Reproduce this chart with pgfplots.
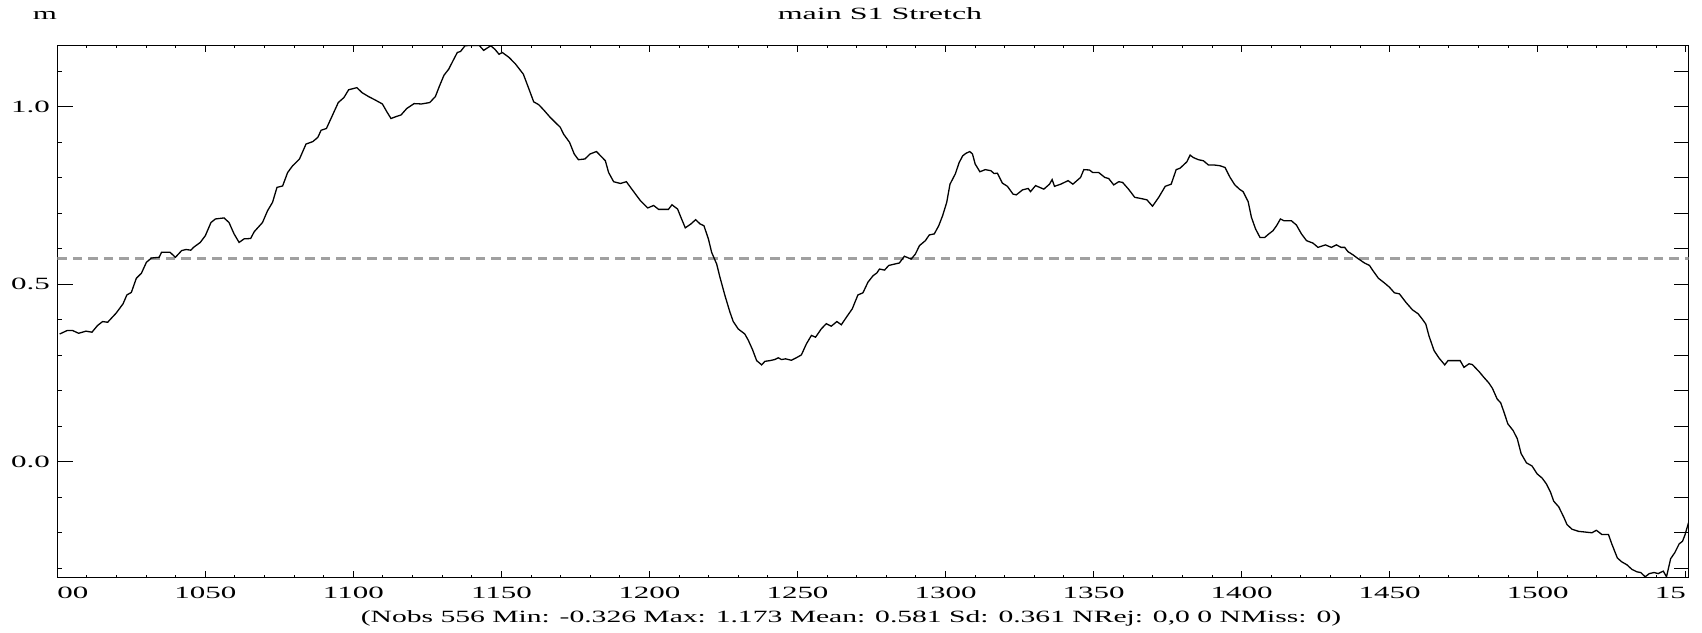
\documentclass[border=0pt]{standalone}
\usepackage{fontspec}
\setmainfont{Liberation Serif}[FakeStretch=1.8]
\newfontfamily\capfont{Liberation Serif}[FakeStretch=1.72]
\newfontfamily\titfont{Liberation Serif}[FakeStretch=1.86]
\usepackage{pgfplots}
\pgfplotsset{compat=1.18}
\begin{document}
\fontsize{8.6}{10}\selectfont
\begin{tikzpicture}
\begin{axis}[name=main,
  scale only axis, width=815.7pt, height=266.05pt,
  xmin=1000, xmax=1551, ymin=-0.326, ymax=1.173,
  axis line style={line width=0.6pt},
  tick align=inside,
  every tick/.style={black, line width=0.5pt},
  major tick length=3.5pt, minor tick length=1.25pt,
  xtick={1000,1050,...,1550},
  xticklabels={\makebox[0pt][l]{00},1050,1100,1150,1200,1250,1300,1350,1400,1450,1500,\makebox[0pt][r]{15}},
  minor x tick num=4,
  xtick pos=both,
  ytick={0,0.5,1}, yticklabels={0.0,0.5,1.0},
  ytick pos=left,
  xticklabel style={anchor=base, inner sep=0pt, yshift=-10.65pt, font=\fontsize{8.6}{10}\selectfont},
  yticklabel style={anchor=east, inner sep=0pt, xshift=-3.5pt, font=\fontsize{8.6}{10}\selectfont},
]
\addplot[draw={rgb,255:red,160;green,160;blue,160}, line width=1.15pt, dash pattern=on 4.75pt off 3pt] coordinates {(1000,0.573) (1551,0.573)};
\addplot[black, line width=0.65pt, mark=none] coordinates {
(1000.8,0.360) (1003.4,0.370) (1005.1,0.370) (1007.2,0.362) (1009.7,0.368) (1011.7,0.365) (1013.6,0.384) (1015.3,0.395) (1017.0,0.393) (1019.9,0.419) (1022.2,0.445) (1023.5,0.470) (1025.0,0.477) (1026.7,0.517) (1028.4,0.531) (1030.1,0.562) (1031.8,0.574) (1034.4,0.576) (1035.2,0.590) (1038.1,0.590) (1039.9,0.576) (1042.0,0.595) (1043.5,0.598) (1045.1,0.596) (1046.0,0.604) (1048.3,0.618) (1050.0,0.637) (1051.9,0.674) (1053.4,0.684) (1056.3,0.687) (1058.0,0.674) (1059.7,0.642) (1061.4,0.618) (1063.1,0.628) (1065.3,0.629) (1066.5,0.648) (1069.3,0.674) (1071.0,0.707) (1072.7,0.731) (1074.2,0.773) (1076.1,0.777) (1077.8,0.815) (1079.5,0.834) (1081.8,0.853) (1084.0,0.895) (1086.3,0.902) (1088.0,0.914) (1089.1,0.934) (1090.9,0.939) (1092.6,0.970)
(1094.9,1.012) (1096.8,1.026) (1098.4,1.048) (1101.2,1.054) (1102.9,1.040) (1105.1,1.029) (1107.4,1.019) (1109.8,1.008) (1111.3,0.986) (1112.7,0.967) (1114.6,0.973) (1116.1,0.977) (1118.0,0.995) (1120.5,1.009) (1123.0,1.008) (1125.8,1.012) (1127.7,1.029) (1129.1,1.059) (1130.6,1.089) (1132.2,1.106) (1133.6,1.129) (1135.1,1.153) (1136.2,1.156) (1137.7,1.172) (1139.7,1.173) (1142.5,1.173) (1144.0,1.159) (1146.4,1.172) (1147.8,1.162) (1149.2,1.148) (1150.3,1.153) (1152.6,1.139) (1154.8,1.120) (1157.4,1.092) (1159.3,1.050) (1160.9,1.014) (1162.6,1.006) (1164.3,0.991) (1166.5,0.970) (1168.2,0.956) (1169.9,0.942) (1171.0,0.923) (1173.0,0.900) (1174.6,0.867) (1176.0,0.851) (1178.2,0.853) (1179.9,0.867) (1182.1,0.874)
(1185.1,0.848) (1186.2,0.815) (1187.9,0.789) (1190.2,0.784) (1192.2,0.789) (1194.4,0.764) (1196.9,0.736) (1199.4,0.715) (1201.4,0.722) (1203.1,0.711) (1206.4,0.711) (1207.6,0.724) (1209.5,0.712) (1210.6,0.689) (1212.1,0.659) (1214.0,0.670) (1215.6,0.682) (1217.1,0.670) (1218.4,0.665) (1219.9,0.628) (1221.0,0.590) (1222.7,0.557) (1223.8,0.520) (1225.5,0.468) (1227.2,0.421) (1228.3,0.395) (1230.0,0.374) (1232.2,0.360) (1233.4,0.342) (1234.8,0.316) (1236.2,0.285) (1237.9,0.273) (1239.0,0.283) (1240.7,0.285) (1242.3,0.288) (1243.5,0.293) (1244.6,0.288) (1246.0,0.290) (1247.9,0.286) (1249.6,0.293) (1251.3,0.301) (1253.0,0.332) (1254.7,0.356) (1256.1,0.351) (1258.0,0.374) (1259.7,0.389) (1261.4,0.382) (1263.3,0.395) (1264.8,0.386) (1266.5,0.407) (1268.5,0.431) (1270.4,0.470)
(1272.1,0.476) (1273.8,0.506) (1275.5,0.524) (1276.8,0.532) (1277.7,0.543) (1279.4,0.540) (1280.8,0.553) (1282.8,0.557) (1284.4,0.560) (1286.1,0.579) (1288.4,0.571) (1289.8,0.585) (1291.2,0.609) (1293.2,0.623) (1294.5,0.639) (1296.2,0.642) (1297.7,0.665) (1299.0,0.693) (1300.4,0.731) (1301.5,0.782) (1303.3,0.811) (1304.6,0.843) (1305.8,0.862) (1306.9,0.869) (1308.2,0.874) (1309.1,0.867) (1310.0,0.839) (1311.6,0.817) (1313.4,0.823) (1315.3,0.820) (1316.4,0.812) (1317.5,0.813) (1319.2,0.785) (1320.9,0.776) (1322.8,0.754) (1323.9,0.752) (1326.0,0.766) (1327.9,0.770) (1328.7,0.761) (1330.4,0.778) (1333.2,0.768) (1335.1,0.782) (1336.0,0.795) (1336.8,0.776) (1338.9,0.782) (1341.4,0.792) (1343.0,0.782) (1345.6,0.801) (1346.7,0.823) (1348.6,0.822) (1349.7,0.815) (1351.7,0.815) (1353.8,0.801) (1355.1,0.798) (1356.8,0.780) (1358.5,0.789) (1359.8,0.787) (1361.8,0.768)
(1363.9,0.745) (1365.8,0.742) (1368.0,0.738) (1369.9,0.720) (1372.0,0.745) (1374.2,0.776) (1376.2,0.782) (1377.9,0.823) (1379.2,0.827) (1381.5,0.845) (1382.6,0.864) (1383.7,0.857) (1385.4,0.851) (1387.1,0.848) (1388.8,0.836) (1390.8,0.836) (1392.7,0.834) (1394.4,0.829) (1396.1,0.801) (1397.7,0.780) (1399.4,0.767) (1400.5,0.761) (1402.2,0.733) (1403.3,0.689) (1404.7,0.656) (1406.2,0.632) (1407.8,0.632) (1409.2,0.642) (1410.6,0.651) (1411.8,0.665) (1413.1,0.684) (1414.3,0.679) (1416.8,0.679) (1418.5,0.667) (1420.2,0.642) (1421.9,0.623) (1424.1,0.616) (1425.8,0.604) (1428.3,0.611) (1430.3,0.604) (1432.0,0.611) (1433.6,0.604) (1434.8,0.604) (1435.9,0.592) (1437.6,0.583) (1439.2,0.573) (1441.5,0.560) (1443.2,0.553) (1444.3,0.539) (1446.2,0.517) (1448.2,0.504) (1449.9,0.492) (1451.6,0.476) (1453.3,0.473)
(1455.5,0.449) (1457.7,0.428) (1459.6,0.417) (1461.1,0.401) (1462.2,0.388) (1463.3,0.354) (1465.0,0.313) (1466.7,0.292) (1468.6,0.273) (1469.7,0.285) (1471.7,0.285) (1473.8,0.285) (1475.1,0.266) (1476.8,0.276) (1477.9,0.274) (1480.2,0.254) (1481.8,0.238) (1483.5,0.222) (1484.7,0.207) (1486.3,0.177) (1487.5,0.166) (1488.6,0.140) (1489.9,0.107) (1491.7,0.088) (1493.1,0.065) (1494.4,0.023) (1496.2,-0.003) (1498.1,-0.012) (1499.8,-0.034) (1501.5,-0.046) (1502.9,-0.062) (1504.3,-0.085) (1505.4,-0.111) (1507.1,-0.127) (1508.8,-0.156) (1509.9,-0.177) (1511.6,-0.190) (1513.8,-0.196) (1516.1,-0.198) (1518.3,-0.200) (1519.8,-0.193) (1521.7,-0.205) (1523.9,-0.205) (1525.0,-0.231) (1526.9,-0.271) (1528.4,-0.282) (1530.1,-0.290) (1531.8,-0.303) (1533.5,-0.310) (1534.8,-0.312) (1536.3,-0.324) (1537.7,-0.315) (1539.3,-0.312) (1540.7,-0.315) (1542.4,-0.308) (1543.5,-0.324) (1544.9,-0.273) (1546.3,-0.256) (1547.8,-0.231) (1548.9,-0.224) (1549.7,-0.207) (1551.0,-0.170)
};
\end{axis}
% left y ticks: long majors, short minors
\begin{axis}[at={(main.south west)}, anchor=south west,
  scale only axis, width=815.7pt, height=266.05pt,
  xmin=1000, xmax=1551, ymin=-0.326, ymax=1.173,
  axis line style={draw=none}, tick align=inside,
  every tick/.style={black, line width=0.5pt},
  xtick=\empty, ytick={0,0.5,1}, yticklabels={,,},
  minor ytick={-0.3,-0.2,-0.1,0.1,0.2,0.3,0.4,0.6,0.7,0.8,0.9,1.1},
  ytick pos=left, major tick length=8pt, minor tick length=2.5pt]
\end{axis}
% right y ticks
\begin{axis}[at={(main.south west)}, anchor=south west,
  scale only axis, width=815.7pt, height=266.05pt,
  xmin=1000, xmax=1551, ymin=-0.326, ymax=1.173,
  axis line style={draw=none}, tick align=inside,
  every tick/.style={black, line width=0.5pt},
  xtick=\empty, ytick={-0.3,-0.2,-0.1,0,0.1,0.2,0.3,0.4,0.5,0.6,0.7,0.8,0.9,1.0,1.1},
  yticklabels={,,,,,,,,,,,,,,,},
  ytick pos=right, major tick length=7.5pt]
\end{axis}
\node[anchor=base] at ([xshift=411.35pt, yshift=12.8pt]main.north west) {\titfont main S1 Stretch};
\node[anchor=base] at ([xshift=-6.15pt, yshift=12.8pt]main.north west) {m};
\node[anchor=base] at ([xshift=396.85pt, yshift=-22.65pt]main.south west) {\capfont (Nobs 556 Min: -0.326 Max: 1.173 Mean: 0.581 Sd: 0.361 NRej: 0,0 0 NMiss: 0)};
\pgfresetboundingbox
\path[use as bounding box] ([xshift=-28.65pt,yshift=-27.25pt]main.south west) rectangle ([xshift=6.65pt,yshift=22.7pt]main.north east);
\end{tikzpicture}
\end{document}
